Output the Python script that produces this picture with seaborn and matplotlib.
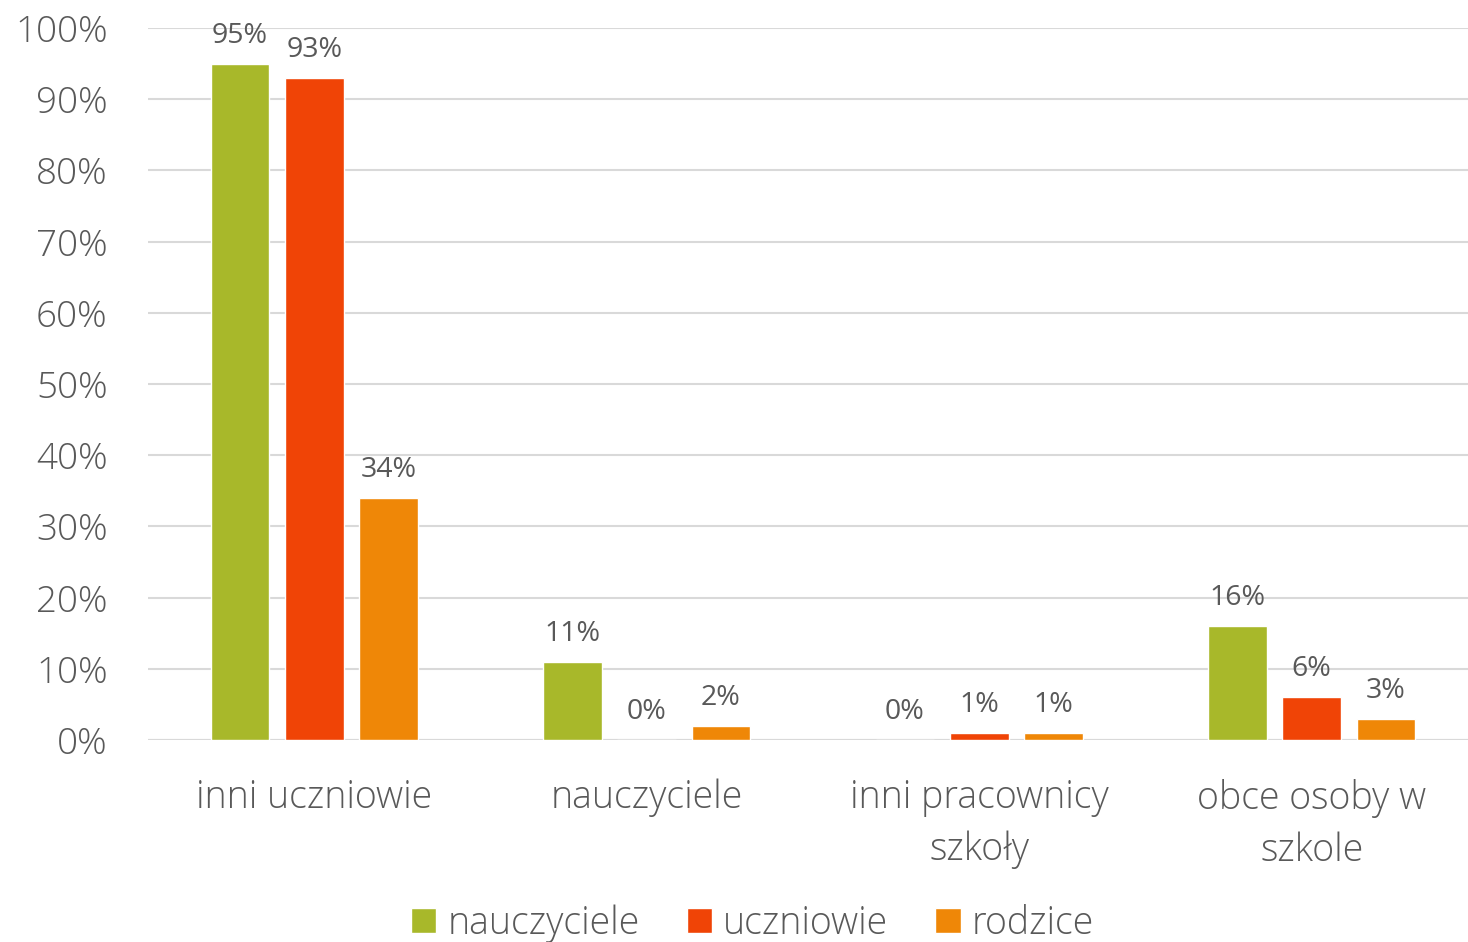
import pandas as pd
import matplotlib.pyplot as plt
import seaborn as sns

# data (%)
categories = ['inni uczniowie', 'nauczyciele', 'inni pracownicy\nszkoły', 'obce osoby w\nszkole']
series = ['nauczyciele', 'uczniowie', 'rodzice']
nauczyciele = [95, 11, 0, 16]
uczniowie = [93, 0, 1, 6]
rodzice = [34, 2, 1, 3]
colors = ['#A8B82A', '#F04406', '#EF8707']

df = pd.DataFrame({
    'kategoria': categories * 3,
    'grupa': [s for s in series for _ in categories],
    'wartosc': nauczyciele + uczniowie + rodzice,
})

sns.set_style('white')
plt.rcParams['font.family'] = ['Open Sans', 'DejaVu Sans']
plt.rcParams['font.weight'] = 'light'
text_col = '#595959'

fig = plt.figure(figsize=(14.68, 9.42), dpi=100)
ax = fig.add_axes([0.1008, 0.2144, 0.8992, 0.7559])

sns.barplot(data=df, x='kategoria', y='wartosc', hue='grupa',
            order=categories, hue_order=series, palette=colors,
            width=0.67, gap=0.21, saturation=1, ax=ax, legend=True)

for cont in ax.containers:
    ax.bar_label(cont, labels=[f'{v:.0f}%' for v in cont.datavalues],
                 padding=10, fontsize=20.5, fontweight='normal', color=text_col)

ax.set_ylim(0, 100)
ax.set_xlim(-0.5, 3.47)
ax.set_yticks(range(0, 101, 10))
ax.set_yticklabels([f'{v}%' for v in range(0, 101, 10)])
ax.yaxis.grid(True, color='#D9D9D9', linewidth=1.5)
ax.set_axisbelow(True)
ax.axhline(0, color='#D9D9D9', linewidth=1.5, zorder=0)
sns.despine(ax=ax, left=True, bottom=True)
ax.tick_params(axis='y', length=0, pad=29, labelsize=26.5, labelcolor=text_col)
ax.tick_params(axis='x', length=0, pad=28, labelsize=27, labelcolor=text_col)
for lab in ax.get_xticklabels():
    lab.set_linespacing(1.45)
ax.set_xlabel('')
ax.set_ylabel('')

handles, labels = ax.get_legend_handles_labels()
ax.legend(handles, labels, loc='center', bbox_to_anchor=(0.458, -0.2575),
          ncol=3, frameon=False, fontsize=27, labelcolor=text_col,
          handlelength=0.68, handleheight=0.68, handletextpad=0.3, columnspacing=1.25)

fig.savefig('out.png', dpi=100)
